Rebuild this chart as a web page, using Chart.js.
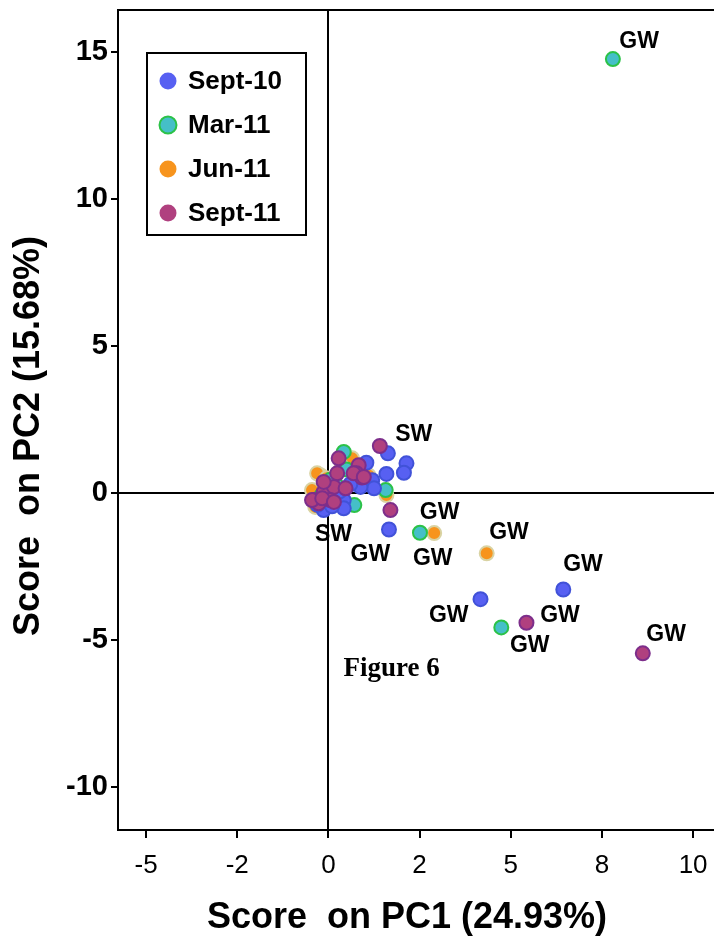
<!DOCTYPE html>
<html lang="en">
<head>
<meta charset="utf-8">
<script src="https://cdn.jsdelivr.net/npm/chart.js@4.4.0/dist/chart.umd.min.js"></script>
<style>
  html, body { margin: 0; padding: 0; background: #fff; overflow: hidden; }
  canvas { display: block; }
</style>
</head>
<body>
<canvas id="pcaChart" width="724" height="947"></canvas>
<script>
// series (PC1 score, PC2 score)
const seriesNames = ['Sept-10', 'Mar-11', 'Jun-11', 'Sept-11'];

const sept10X = [1.63, 2.14, 2.07, 1.59, 1.04, 1.20, 1.25, 0.88, 0.42, 0.42, -0.13, 1.66, 0.60, -0.30, 0.10, 0.30, 6.44, 4.17];
const sept10Y = [1.35, 1.01, 0.69, 0.65, 1.03, 0.44, 0.16, 0.21, -0.24, -0.52, -0.58, -1.24, 0.30, -0.40, -0.45, 0.05, -3.28, -3.61];

const mar11X = [0.71, 0.42, 1.57, 0.50, 0.20, -0.20, 0.05, 7.80, 2.51, 4.74];
const mar11Y = [-0.41, 1.40, 0.10, 0.80, 0.30, -0.10, 0.45, 14.76, -1.35, -4.57];

const jun11X = [0.65, 0.88, 1.59, -0.22, 0.37, -0.31, -0.36, -0.05, 0.10, -0.45, 1.10, 2.90, 4.34];
const jun11Y = [1.18, 0.27, -0.07, 0.61, 0.90, 0.67, -0.47, 0.50, 0.10, 0.10, 0.60, -1.36, -2.05];

const sept11X = [1.41, 0.28, 0.83, 0.77, 0.92, 0.24, 1.70, -0.40, -0.13, 0.15, 0.47, -0.13, 0.05, -0.27, -0.45, -0.17, 0.15, 0.69, 0.97, 5.43, 8.62];
const sept11Y = [1.60, 1.18, 0.95, 0.67, 0.53, 0.67, -0.58, -0.24, 0.04, 0.21, 0.16, 0.38, -0.24, -0.35, -0.24, -0.18, -0.30, 0.67, 0.55, -4.41, -5.45];

// ticks
const xTickValues = [-5, -2.5, 0, 2.5, 5, 7.5, 10];
const xTickLabels = ['-5', '-2', '0', '2', '5', '8', '10'];
const yTickValues = [15, 10, 5, 0, -5, -10];

// point labels (in data units)
const noteText = ['GW', 'GW', 'GW', 'GW', 'GW', 'GW', 'GW', 'GW', 'GW', 'GW', 'SW', 'SW'];
const noteX = [8.52, 3.05, 4.95, 2.86, 6.98, 3.30, 6.35, 5.52, 9.26, 1.15, 2.34, 0.14];
const noteY = [15.34, -0.65, -1.36, -2.24, -2.45, -4.18, -4.18, -5.20, -4.80, -2.11, 1.97, -1.43];

const xTitle = 'Score  on PC1 (24.93%)';
const yTitle = 'Score  on PC2 (15.68%)';

const fam = '"Liberation Sans", Arial, Helvetica, sans-serif';

function pts(xs, ys) {
  return xs.map((x, i) => ({ x: x, y: ys[i] }));
}

const datasets = [
  { label: seriesNames[0], data: pts(sept10X, sept10Y), backgroundColor: '#5760f2', borderColor: '#4152d8', order: 1 },
  { label: seriesNames[1], data: pts(mar11X, mar11Y), backgroundColor: '#45bfc8', borderColor: '#2cc248', order: 2 },
  { label: seriesNames[2], data: pts(jun11X, jun11Y), backgroundColor: '#f7941d', borderColor: '#d9d3a3', order: 3 },
  { label: seriesNames[3], data: pts(sept11X, sept11Y), backgroundColor: '#b0407f', borderColor: '#7d2e8b', order: 0 }
];
datasets.forEach(d => { d.pointRadius = 7; d.borderWidth = 2; d.pointHoverRadius = 7; });

const extras = {
  id: 'extras',
  afterDraw(chart) {
    const ctx = chart.ctx;
    const a = chart.chartArea;
    const xs = chart.scales.x, ys = chart.scales.y;
    ctx.save();
    // top frame line
    ctx.strokeStyle = '#000';
    ctx.lineWidth = 2;
    ctx.beginPath();
    ctx.moveTo(a.left - 1, a.top);
    ctx.lineTo(a.right, a.top);
    ctx.stroke();

    // GW / SW labels
    ctx.fillStyle = '#000';
    ctx.font = 'bold 23px ' + fam;
    ctx.textAlign = 'center';
    ctx.textBaseline = 'middle';
    noteText.forEach((t, i) => {
      ctx.fillText(t, xs.getPixelForValue(noteX[i]), ys.getPixelForValue(noteY[i]));
    });

    // caption
    ctx.font = 'bold 27px "Liberation Serif", "Times New Roman", serif';
    ctx.fillText('Figure 6', xs.getPixelForValue(1.73), ys.getPixelForValue(-5.99));

    // axis titles
    ctx.font = 'bold 36px ' + fam;
    ctx.fillText(xTitle, a.left + 289, xs.bottom - 29);
    ctx.save();
    ctx.translate(ys.left + 29, a.top + 426);
    ctx.rotate(-Math.PI / 2);
    ctx.fillText(yTitle, 0, 0);
    ctx.restore();

    // legend box
    const bx = a.left + 29, by = a.top + 43, bw = 159, bh = 182;
    ctx.fillStyle = '#fff';
    ctx.fillRect(bx, by, bw, bh);
    ctx.lineWidth = 2;
    ctx.strokeRect(bx, by, bw, bh);
    ctx.font = 'bold 26px ' + fam;
    ctx.textAlign = 'left';
    chart.data.datasets.forEach((d, i) => {
      const cy = by + 28 + i * 44;
      ctx.beginPath();
      ctx.arc(bx + 21, cy, 8.5, 0, Math.PI * 2);
      ctx.fillStyle = d.backgroundColor;
      ctx.fill();
      if (i === 1) {
        ctx.lineWidth = 2;
        ctx.strokeStyle = d.borderColor;
        ctx.stroke();
      }
      ctx.fillStyle = '#000';
      ctx.fillText(d.label, bx + 41, cy + 1);
    });
    ctx.restore();
  }
};

const zeroGrid = c => (c.tick && c.tick.value === 0) ? '#000' : 'rgba(0,0,0,0)';

new Chart(document.getElementById('pcaChart').getContext('2d'), {
  type: 'scatter',
  data: { datasets: datasets },
  options: {
    responsive: false,
    animation: false,
    layout: { padding: { top: 10, left: 0, right: 0, bottom: 0 } },
    plugins: { legend: { display: false }, tooltip: { enabled: false } },
    scales: {
      x: {
        type: 'linear',
        min: -5.77,
        max: 10.60,
        afterBuildTicks: s => { s.ticks = xTickValues.map(v => ({ value: v })); },
        afterFit: s => { s.height = 117; s.paddingLeft = 0; s.paddingRight = 0; },
        ticks: {
          callback: (v, i) => xTickLabels[i],
          font: { family: fam, size: 26 },
          color: '#000',
          padding: 12,
          maxRotation: 0,
          autoSkip: false
        },
        grid: { color: zeroGrid, lineWidth: 2, tickColor: '#000', tickLength: 8, tickWidth: 2 },
        border: { display: true, color: '#000', width: 2 }
      },
      y: {
        type: 'linear',
        min: -11.46,
        max: 16.43,
        afterBuildTicks: s => { s.ticks = yTickValues.map(v => ({ value: v })); },
        afterFit: s => { s.width = 118; s.paddingTop = 0; s.paddingBottom = 0; },
        ticks: {
          font: { family: fam, size: 29, weight: 'bold' },
          color: '#000',
          padding: 3
        },
        grid: { color: zeroGrid, lineWidth: 2, tickColor: '#000', tickLength: 7, tickWidth: 2 },
        border: { display: true, color: '#000', width: 2 }
      }
    }
  },
  plugins: [extras]
});
</script>
</body>
</html>
